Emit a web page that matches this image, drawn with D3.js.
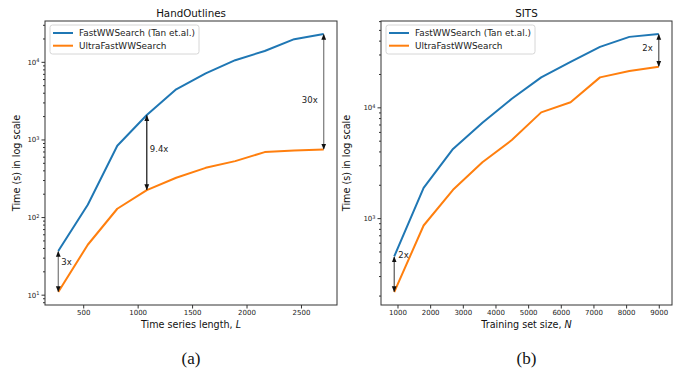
<!DOCTYPE html>
<html><head><meta charset="utf-8">
<script src="https://cdn.jsdelivr.net/npm/d3@7"></script>
<style>body{margin:0;background:#fff}svg{display:block}text{font-family:"DejaVu Sans",sans-serif}</style>
</head><body><svg id="c" width="681" height="371"></svg>
<script>
// ---- data ----
const seriesNames = ["FastWWSearch (Tan et.al.)", "UltraFastWWSearch"];
const handLengths = [271, 542, 813, 1084, 1354, 1625, 1896, 2167, 2438, 2709];
const handFast = [36.6, 144, 830, 2065, 4420, 7100, 10500, 13800, 19600, 22900];
const handUltra = [10.8, 44, 128, 222, 321, 431, 526, 687, 722, 740];
const handXTicks = [500, 1000, 1500, 2000, 2500];
const handAnnotations = [{i: 0, text: "3x"}, {i: 3, text: "9.4x"}, {i: 9, text: "30x"}];

const sitsSizes = [900, 1800, 2700, 3600, 4500, 5400, 6300, 7200, 8100, 9000];
const sitsFast = [451, 1875, 4210, 7260, 11950, 18640, 25760, 35160, 43250, 46000];
const sitsUltra = [215, 858, 1800, 3195, 5070, 9010, 11100, 18640, 21240, 23230];
const sitsXTicks = [1000, 2000, 3000, 4000, 5000, 6000, 7000, 8000, 9000];
const sitsAnnotations = [{i: 0, text: "2x"}, {i: 9, text: "2x"}];

const colors = ["#1f77b4", "#ff7f0e"];
const svg = d3.select("#c");

const defs = svg.append("defs");
defs.append("marker").attr("id","ah").attr("viewBox","0 0 10 10").attr("refX",9).attr("refY",5)
  .attr("markerWidth",6).attr("markerHeight",6).attr("markerUnits","userSpaceOnUse").attr("orient","auto-start-reverse")
  .append("path").attr("d","M0,1 L10,5 L0,9 z").attr("fill","#111");

function panel(o) {
  const g = svg.append("g");
  const xs = o.x, all = o.a.concat(o.b);
  const xr = d3.extent(xs), xp = (xr[1]-xr[0])*0.05;
  const x = d3.scaleLinear().domain([xr[0]-xp, xr[1]+xp]).range([o.left, o.right]);
  const lmin = Math.log10(d3.min(all)), lmax = Math.log10(d3.max(all)), lp = (lmax-lmin)*0.05;
  const y = d3.scaleLog().domain([Math.pow(10,lmin-lp), Math.pow(10,lmax+lp)]).range([o.bottom, o.top]);
  const [y0, y1] = y.domain();

  // x axis
  const xa = g.append("g").attr("transform",`translate(0,${o.bottom})`)
    .call(d3.axisBottom(x).tickValues(o.xticks).tickSize(3.5).tickPadding(2).tickFormat(d3.format("d")));
  xa.select(".domain").remove();
  xa.selectAll("line").attr("stroke","#333");
  xa.selectAll("text").style("font-size","7px").attr("fill","#222");

  // y axis ticks
  const minors = [], majors = [];
  for (let e = Math.floor(Math.log10(y0)); e <= Math.ceil(Math.log10(y1)); e++) {
    for (let m = 1; m <= 9; m++) {
      const v = m*Math.pow(10,e);
      if (v >= y0 && v <= y1) (m===1?majors:minors).push(v);
    }
  }
  const ymin = g.append("g").attr("transform",`translate(${o.left},0)`)
    .call(d3.axisLeft(y).tickValues(minors).tickSize(2).tickFormat(""));
  ymin.select(".domain").remove(); ymin.selectAll("line").attr("stroke","#333");
  const ymaj = g.append("g").attr("transform",`translate(${o.left},0)`)
    .call(d3.axisLeft(y).tickValues(majors).tickSize(3.5).tickPadding(2).tickFormat(""));
  ymaj.select(".domain").remove(); ymaj.selectAll("line").attr("stroke","#333");
  ymaj.selectAll(".tick").each(function(d){
    const t = d3.select(this).select("text").style("font-size","7px")
      .attr("fill","#222").attr("dy","0.35em").attr("x",-5.5);
    t.append("tspan").text("10");
    t.append("tspan").style("font-size","5px").attr("dy","-0.5em").text(Math.round(Math.log10(d)));
  });

  // lines
  const line = d3.line().x((d,i)=>x(xs[i])).y(d=>y(d));
  [o.a, o.b].forEach((s,k)=>{
    g.append("path").datum(s).attr("d",line).attr("fill","none").attr("stroke",colors[k])
      .attr("stroke-width",2).attr("stroke-linejoin","round");
  });

  // annotations
  o.ann.forEach((an,k)=>{
    const st = o.annStyle[k];
    const ax = x(xs[an.i]), ya = y(o.a[an.i]), yb = y(o.b[an.i]);
    g.append("line").attr("x1",ax).attr("x2",ax).attr("y1",ya+0.5).attr("y2",yb-0.5)
      .attr("stroke",st.c).attr("stroke-width",1.2)
      .attr("marker-start","url(#ah)").attr("marker-end","url(#ah)");
    g.append("text").attr("x",ax+st.dx).attr("y",ya+st.t*(yb-ya)).attr("dy","0.35em")
      .attr("text-anchor",st.dx<0?"end":"start").style("font-size","8.5px").attr("fill","#222").text(an.text);
  });

  // frame
  g.append("rect").attr("x",o.left).attr("y",o.top).attr("width",o.right-o.left).attr("height",o.bottom-o.top)
    .attr("fill","none").attr("stroke","#333").attr("stroke-width",1);

  // title and labels
  const cx = (o.left+o.right)/2;
  g.append("text").attr("x",cx).attr("y",16.5).attr("text-anchor","middle").style("font-size","10.3px").attr("fill","#111").text(o.title);
  const xl = g.append("text").attr("x",cx).attr("y",328).attr("text-anchor","middle").style("font-size","9.6px").attr("fill","#111");
  xl.append("tspan").text(o.xlabel);
  xl.append("tspan").style("font-style","italic").text(o.xvar);
  g.append("text").attr("transform",`translate(${o.ylx},${(o.top+o.bottom)/2}) rotate(-90)`).attr("text-anchor","middle")
    .style("font-size","9.6px").attr("fill","#111").text("Time (s) in log scale");
  g.append("text").attr("x",cx).attr("y",364).attr("text-anchor","middle").style("font-size","17px")
    .style("font-family","'Liberation Serif','DejaVu Serif',serif").attr("fill","#111").text(o.cap);

  // legend
  const lg = g.append("g").attr("transform",`translate(${o.left+5},25)`);
  lg.append("rect").attr("width",o.legW).attr("height",29).attr("rx",2.5).attr("fill","#fff")
    .attr("fill-opacity",0.85).attr("stroke","#ccc").attr("stroke-width",0.8);
  seriesNames.forEach((n,k)=>{
    lg.append("line").attr("x1",3).attr("x2",23).attr("y1",8+k*12.7).attr("y2",8+k*12.7)
      .attr("stroke",colors[k]).attr("stroke-width",2);
    lg.append("text").attr("x",29).attr("y",8+k*12.7).attr("dy","0.35em").style("font-size","8.9px").attr("fill","#222").text(n);
  });
}

panel({x: handLengths, a: handFast, b: handUltra, xticks: handXTicks, ann: handAnnotations,
  annStyle: [{c:"#777",dx:3,t:0.26},{c:"#111",dx:3,t:0.45},{c:"#777",dx:-6,t:0.57}],
  left:45, right:337, top:21, bottom:305, title:"HandOutlines", xlabel:"Time series length, ", xvar:"L",
  ylx:20, cap:"(a)", legW:149});
panel({x: sitsSizes, a: sitsFast, b: sitsUltra, xticks: sitsXTicks, ann: sitsAnnotations,
  annStyle: [{c:"#555",dx:4,t:-0.05},{c:"#555",dx:-6,t:0.42}],
  left:381, right:672, top:21, bottom:305, title:"SITS", xlabel:"Training set size, ", xvar:"N",
  ylx:350, cap:"(b)", legW:149});
</script></body></html>
